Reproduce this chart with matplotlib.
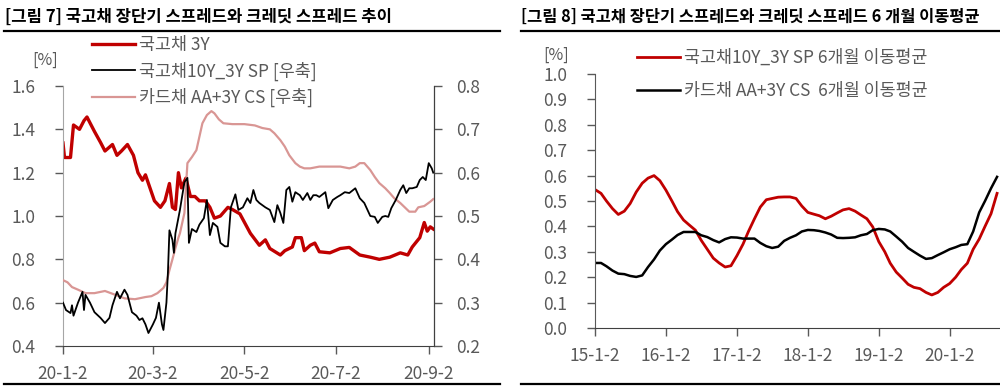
import matplotlib.pyplot as plt
import pandas as pd
from matplotlib.lines import Line2D

plt.rcParams['font.family'] = ['Noto Sans CJK KR', 'DejaVu Sans']

RED = '#C00000'
PINK = '#D99694'
GRAY = '#595959'

# ---- [그림 7] data (2020) ----
ktb3y_days = ['01-02', '01-03', '01-07', '01-09', '01-13', '01-16', '01-18', '01-20', '01-23', '01-27', '01-30',
              '02-04', '02-07', '02-10', '02-14', '02-18', '02-21', '02-24', '02-26', '02-29',
              '03-03', '03-07', '03-10', '03-13', '03-15', '03-17', '03-19', '03-21', '03-24', '03-27', '03-30',
              '04-02', '04-06', '04-09', '04-12', '04-16', '04-21', '04-24', '04-29',
              '05-06', '05-12', '05-16', '05-19', '05-26', '05-29',
              '06-03', '06-05', '06-09', '06-11', '06-15', '06-18', '06-21', '06-28',
              '07-05', '07-11', '07-18', '07-25', '07-31',
              '08-07', '08-14', '08-19', '08-22', '08-27', '08-30',
              '09-01', '09-03', '09-05']
ktb3y = [1.337, 1.27, 1.27, 1.42, 1.40, 1.44, 1.457, 1.43, 1.39, 1.34, 1.30,
         1.33, 1.28, 1.30, 1.33, 1.28, 1.20, 1.165, 1.19, 1.13,
         1.07, 1.04, 1.07, 1.15, 1.04, 1.03, 1.20, 1.13, 1.175, 1.09, 1.09,
         1.07, 1.07, 1.04, 0.99, 1.00, 1.04, 1.03, 1.01,
         0.92, 0.865, 0.89, 0.85, 0.82, 0.84,
         0.857, 0.90, 0.90, 0.84, 0.865, 0.875, 0.835, 0.83,
         0.85, 0.855, 0.82, 0.81, 0.80,
         0.81, 0.83, 0.82, 0.857, 0.90, 0.97,
         0.93, 0.95, 0.94]

sp_days = ['01-02', '01-04', '01-07', '01-08', '01-09', '01-12', '01-15', '01-16', '01-17', '01-20', '01-23', '01-27', '01-30',
           '02-02', '02-04', '02-07', '02-09', '02-12', '02-14', '02-17', '02-20', '02-22', '02-24', '02-26', '02-28',
           '03-02', '03-04', '03-06', '03-08', '03-09', '03-11', '03-12', '03-13', '03-15', '03-16', '03-17', '03-20',
           '03-23', '03-25', '03-26', '03-28', '03-31',
           '04-02', '04-05', '04-07', '04-09', '04-11', '04-14', '04-16', '04-19', '04-21', '04-23', '04-26', '04-28',
           '05-01', '05-04', '05-06', '05-08', '05-10', '05-12', '05-16', '05-19', '05-22', '05-24', '05-26', '05-28', '05-30',
           '06-01', '06-03', '06-05', '06-08', '06-10', '06-13', '06-15', '06-17', '06-19', '06-21', '06-25', '06-27', '06-30',
           '07-03', '07-05', '07-08', '07-11', '07-15', '07-18', '07-21', '07-25', '07-28', '07-30',
           '08-02', '08-04', '08-06', '08-08', '08-11', '08-14', '08-16', '08-18', '08-20', '08-22', '08-25', '08-27', '08-29', '08-31',
           '09-02', '09-04', '09-05']
sp_10y3y = [0.30, 0.283, 0.276, 0.294, 0.27, 0.30, 0.325, 0.283, 0.318, 0.30, 0.278, 0.265, 0.253,
            0.265, 0.294, 0.325, 0.31, 0.33, 0.318, 0.278, 0.27, 0.26, 0.264, 0.25, 0.23,
            0.25, 0.265, 0.30, 0.25, 0.237, 0.30, 0.37, 0.467, 0.445, 0.415, 0.46, 0.514,
            0.578, 0.588, 0.438, 0.47, 0.463,
            0.48, 0.495, 0.537, 0.456, 0.484, 0.475, 0.438, 0.43, 0.43, 0.52, 0.55, 0.514,
            0.52, 0.541, 0.53, 0.56, 0.537, 0.53, 0.52, 0.514, 0.486, 0.525, 0.507, 0.484, 0.56,
            0.567, 0.533, 0.555, 0.548, 0.537, 0.553, 0.537, 0.548, 0.548, 0.544, 0.555, 0.518, 0.537,
            0.544, 0.548, 0.555, 0.553, 0.564, 0.541, 0.53, 0.50, 0.498, 0.484,
            0.498, 0.50, 0.498, 0.518, 0.537, 0.56, 0.571, 0.553, 0.564, 0.564, 0.567, 0.583, 0.59, 0.583,
            0.622, 0.61, 0.60]

cs_days = ['01-02', '01-05', '01-08', '01-12', '01-17', '01-23', '01-30',
           '02-06', '02-12', '02-19', '02-26',
           '03-01', '03-05', '03-09', '03-11', '03-13', '03-15', '03-17', '03-19', '03-20', '03-23', '03-25', '03-28', '03-31',
           '04-02', '04-04', '04-07', '04-10', '04-12', '04-15', '04-18', '04-24',
           '05-02', '05-09', '05-14', '05-19', '05-22', '05-26', '05-29',
           '06-01', '06-05', '06-08', '06-11', '06-15', '06-21', '06-28',
           '07-05', '07-11', '07-15', '07-18', '07-21', '07-25', '07-28', '07-31',
           '08-04', '08-07', '08-10', '08-14', '08-17', '08-20', '08-24', '08-26', '08-30',
           '09-03', '09-05']
card_cs = [0.352, 0.347, 0.336, 0.33, 0.322, 0.322, 0.327,
           0.318, 0.31, 0.308, 0.313,
           0.315, 0.322, 0.334, 0.347, 0.375, 0.40, 0.426, 0.45, 0.46, 0.507, 0.622, 0.636, 0.652,
           0.683, 0.714, 0.733, 0.742, 0.737, 0.723, 0.714, 0.712,
           0.712, 0.709, 0.703, 0.70, 0.691, 0.675, 0.66,
           0.64, 0.622, 0.614, 0.61, 0.61, 0.614, 0.614,
           0.614, 0.61, 0.614, 0.622, 0.622, 0.606, 0.59, 0.576,
           0.564, 0.553, 0.541, 0.53, 0.52, 0.51, 0.51, 0.52, 0.523,
           0.533, 0.539]

left_ticks = ['2020-01-02', '2020-03-02', '2020-05-02', '2020-07-02', '2020-09-02']
left_ticklabels = ['20-1-2', '20-3-2', '20-5-2', '20-7-2', '20-9-2']

# ---- [그림 8] data: monthly readings, 2015-01 .. 2020-09 ----
ma_start = '2015-01-02'
sp_ma6 = [0.545, 0.53, 0.50, 0.47, 0.447, 0.46, 0.49, 0.535, 0.57, 0.59, 0.60, 0.58,
          0.543, 0.50, 0.458, 0.425, 0.405, 0.385, 0.345, 0.31, 0.275, 0.256, 0.24, 0.245,
          0.285, 0.33, 0.38, 0.43, 0.476, 0.505, 0.51, 0.515, 0.516, 0.516, 0.51, 0.48,
          0.455, 0.448, 0.442, 0.43, 0.44, 0.453, 0.465, 0.47, 0.46, 0.445, 0.43, 0.398,
          0.34, 0.30, 0.255, 0.22, 0.197, 0.172, 0.16, 0.155, 0.14, 0.13, 0.14, 0.16,
          0.175, 0.20, 0.23, 0.255, 0.31, 0.35, 0.40, 0.45, 0.53]
cs_ma6 = [0.256, 0.256, 0.243, 0.226, 0.214, 0.212, 0.205, 0.201, 0.207, 0.24, 0.27, 0.305,
          0.33, 0.348, 0.366, 0.378, 0.378, 0.378, 0.365, 0.358, 0.346, 0.337, 0.35, 0.357,
          0.356, 0.352, 0.352, 0.352, 0.335, 0.322, 0.315, 0.32, 0.343, 0.355, 0.365, 0.38,
          0.386, 0.385, 0.382, 0.376, 0.368, 0.355, 0.354, 0.355, 0.357, 0.365, 0.37, 0.385,
          0.39, 0.388, 0.38, 0.36, 0.34, 0.315, 0.30, 0.285, 0.272, 0.275, 0.287, 0.298,
          0.31, 0.318, 0.327, 0.33, 0.38, 0.455, 0.50, 0.55, 0.595]

right_ticks = ['2015-01-02', '2016-01-02', '2017-01-02', '2018-01-02', '2019-01-02', '2020-01-02']
right_ticklabels = ['15-1-2', '16-1-2', '17-1-2', '18-1-2', '19-1-2', '20-1-2']

TICK_FS = 12.5
LEG_FS = 12.5

fig = plt.figure(figsize=(10, 3.86), dpi=100)


def style_axis(a):
    a.tick_params(colors=GRAY, labelsize=TICK_FS, length=6, width=1)
    a.tick_params(axis='x', pad=8)
    a.spines['top'].set_visible(False)


fmt1 = plt.FuncFormatter(lambda v, p: f'{v:.1f}')

# ---------- left chart ----------
ax = fig.add_axes([0.063, 0.1036, 0.371, 0.6736])
ax2 = ax.twinx()
d1 = pd.to_datetime(['2020-' + s for s in ktb3y_days])
d2 = pd.to_datetime(['2020-' + s for s in sp_days])
d3 = pd.to_datetime(['2020-' + s for s in cs_days])
l1, = ax.plot(d1, ktb3y, color=RED, lw=2.4, label='국고채 3Y')
l3, = ax2.plot(d3, card_cs, color=PINK, lw=1.6, label='카드채 AA+3Y CS [우축]')
l2, = ax2.plot(d2, sp_10y3y, color='black', lw=1.3, label='국고채10Y_3Y SP [우축]')

ax.set_ylim(0.4, 1.6)
ax.set_yticks([0.4, 0.6, 0.8, 1.0, 1.2, 1.4, 1.6])
ax.yaxis.set_major_formatter(fmt1)
ax2.set_ylim(0.2, 0.8)
ax2.set_yticks([0.2, 0.3, 0.4, 0.5, 0.6, 0.7, 0.8])
ax2.yaxis.set_major_formatter(fmt1)
ax.set_xlim(pd.Timestamp('2020-01-02'), pd.Timestamp('2020-09-05 12:00'))
ax.set_xticks(pd.to_datetime(left_ticks))
ax.set_xticklabels(left_ticklabels)
for a in (ax, ax2):
    style_axis(a)
ax.tick_params(axis='y', pad=14)
ax2.tick_params(axis='y', pad=10)
ax.spines['left'].set_color('#A6A6A6')
ax2.spines['left'].set_visible(False)
ax.spines['bottom'].set_color('#404040')
ax2.spines['right'].set_color('#404040')
ax2.spines['bottom'].set_visible(False)
fig.text(0.045, 1 - 60 / 386, '[%]', ha='center', va='center', color=GRAY, fontsize=11.5)

ax2.legend(handles=[l1, l2, l3], loc='upper left', bbox_to_anchor=(0.092, 1 - 36 / 386),
           bbox_transform=fig.transFigure, frameon=False, fontsize=LEG_FS, borderpad=0,
           borderaxespad=0, handlelength=2.5, handletextpad=0.2, labelspacing=0.42,
           labelcolor=GRAY)

# ---------- right chart ----------
bx = fig.add_axes([0.595, 0.1503, 0.404, 0.658])
md = pd.date_range(ma_start, periods=len(sp_ma6), freq=pd.DateOffset(months=1))
m1, = bx.plot(md, sp_ma6, color=RED, lw=2.0, label='국고채10Y_3Y SP 6개월 이동평균')
m2, = bx.plot(md, cs_ma6, color='black', lw=1.8, label='카드채 AA+3Y CS  6개월 이동평균')
bx.set_ylim(0, 1.0)
bx.set_yticks([i / 10 for i in range(11)])
bx.yaxis.set_major_formatter(fmt1)
bx.set_xlim(pd.Timestamp('2015-01-02'), pd.Timestamp('2020-09-12'))
bx.set_xticks(pd.to_datetime(right_ticks))
bx.set_xticklabels(right_ticklabels)
style_axis(bx)
bx.tick_params(axis='y', pad=14)
bx.spines['right'].set_visible(False)
bx.spines['left'].set_color('#595959')
bx.spines['bottom'].set_color('#404040')
fig.text(0.556, 1 - 55 / 386, '[%]', ha='center', va='center', color=GRAY, fontsize=11.5)
bx.legend(handles=[m1, m2], loc='upper left', bbox_to_anchor=(0.637, 1 - 49 / 386),
          bbox_transform=fig.transFigure, frameon=False, fontsize=LEG_FS, borderpad=0,
          borderaxespad=0, handlelength=2.5, handletextpad=0.2, labelspacing=0.85,
          labelcolor=GRAY)

# ---------- titles and rules ----------
fig.text(0.005, 1 - 17 / 386, '[그림 7] 국고채 장단기 스프레드와 크레딧 스프레드 추이',
         ha='left', va='center', fontsize=12, fontweight='bold')
fig.text(0.521, 1 - 17 / 386, '[그림 8] 국고채 장단기 스프레드와 크레딧 스프레드 6 개월 이동평균',
         ha='left', va='center', fontsize=11.8, fontweight='bold')
for x0, x1 in [(0.004, 0.500), (0.521, 1.0)]:
    fig.add_artist(Line2D([x0, x1], [1 - 31 / 386] * 2, color='black', lw=1.6))
    fig.add_artist(Line2D([x0, x1], [1 - 384 / 386] * 2, color='black', lw=1.6))

fig.savefig('out.png', dpi=100)
